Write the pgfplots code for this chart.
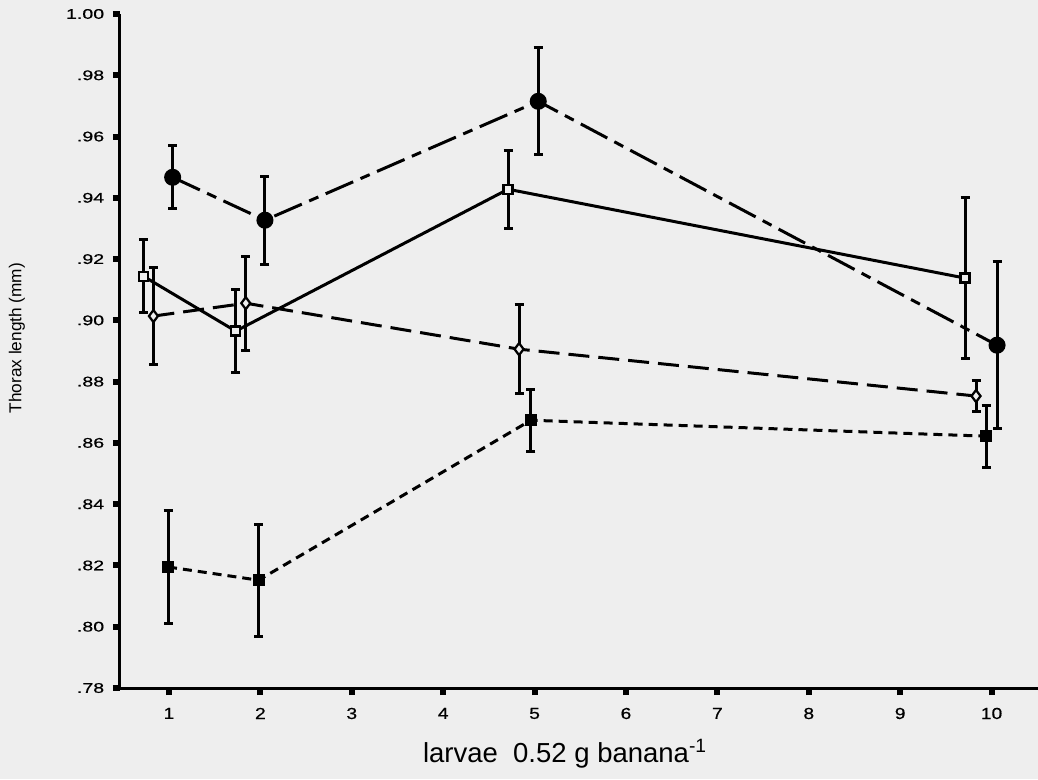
\documentclass[border=0pt]{standalone}
\usepackage{fontspec}
\setmainfont{Liberation Sans}
\newfontfamily\ytickfont[FakeStretch=1.4, FakeBold=0.6]{Liberation Sans}
\newfontfamily\xtickfont[FakeStretch=1.2, FakeBold=0.6]{Liberation Sans}
\usepackage{pgfplots}
\pgfplotsset{compat=1.18}
\definecolor{paper}{RGB}{238,238,238}

\begin{document}
\begin{tikzpicture}
% page background
\fill[paper] (-48pt,-36.4pt) rectangle (367.2pt,275.2pt);
\begin{axis}[
  at={(0,0)}, anchor=south west,
  scale only axis,
  width=367.2pt, height=269.6pt,
  xmin=0.464, xmax=10.508,
  ymin=0.78, ymax=1.00,
  axis lines=left,
  axis line style={-, line width=1.2pt},
  tick align=outside,
  major tick length=2.8pt,
  tick style={line width=2.4pt, black},
  /pgf/number format/assume math mode=true,
  xtick={1,2,3,4,5,6,7,8,9,10},
  ytick={0.78,0.80,0.82,0.84,0.86,0.88,0.90,0.92,0.94,0.96,0.98,1.00},
  yticklabels={.78,.80,.82,.84,.86,.88,.90,.92,.94,.96,.98,1.00},
  xticklabel style={font=\xtickfont\fontsize{6.4}{7}\selectfont, yshift=-1.6pt},
  yticklabel style={font=\ytickfont\fontsize{5.6}{6}\selectfont},
  xlabel={larvae\ \ 0.52 g banana\textsuperscript{-1}},
  ylabel={Thorax length (mm)},
  xlabel style={at={(axis description cs:0.485,-0.1098)}, anchor=base,
    font=\fontsize{11}{13}\selectfont},
  ylabel style={at={(axis description cs:-0.1122,0.519)}, anchor=center,
    font=\fontsize{6.9}{8}\selectfont},
  clip=false,
]
% filled circles, dash-dot line
\addplot[black, line width=1.2pt,
  dash pattern=on 12pt off 3.2pt on 4pt off 3.2pt,
  mark=*, mark size=2.8pt, mark options={solid},
  error bars/.cd, y dir=both, y explicit,
  error bar style={solid, line width=1.2pt},
  error mark options={solid, rotate=90, line width=1.2pt, mark size=1.8pt}]
coordinates {
  (1.04,0.9467) +- (0,0.0103)
  (2.05,0.9327) +- (0,0.0144)
  (5.04,0.9715) +- (0,0.0175)
  (10.06,0.8919) +- (0,0.0272)
};
% open squares, solid line
\addplot[black, line width=1.2pt,
  mark=square*, mark size=1.8pt, mark options={solid, fill=paper, line width=0.9pt},
  error bars/.cd, y dir=both, y explicit,
  error bar style={solid, line width=1.2pt},
  error mark options={solid, rotate=90, line width=1.2pt, mark size=1.8pt}]
coordinates {
  (0.72,0.9144) +- (0,0.0119)
  (1.73,0.8965) +- (0,0.0135)
  (4.71,0.9428) +- (0,0.0127)
  (9.71,0.9138) +- (0,0.0263)
};
% open diamonds, long dashes
\addplot[black, line width=1.2pt,
  dash pattern=on 8.4pt off 3.6pt,
  mark=diamond*, mark size=2.4pt, mark options={solid, fill=paper, line width=0.9pt},
  error bars/.cd, y dir=both, y explicit,
  error bar style={solid, line width=1.2pt},
  error mark options={solid, rotate=90, line width=1.2pt, mark size=1.8pt}]
coordinates {
  (0.83,0.9014) +- (0,0.0157)
  (1.84,0.9056) +- (0,0.0153)
  (4.83,0.8906) +- (0,0.0145)
  (9.83,0.8753) +- (0,0.0052)
};
% filled squares, short dashes
\addplot[black, line width=1.2pt,
  dash pattern=on 3.6pt off 2.4pt,
  mark=square*, mark size=1.8pt, mark options={solid},
  error bars/.cd, y dir=both, y explicit,
  error bar style={solid, line width=1.2pt},
  error mark options={solid, rotate=90, line width=1.2pt, mark size=1.8pt}]
coordinates {
  (0.99,0.8195) +- (0,0.0186)
  (1.98,0.8152) +- (0,0.0183)
  (4.96,0.8674) +- (0,0.0101)
  (9.94,0.8622) +- (0,0.0101)
};
\end{axis}
\pgfresetboundingbox
\path[use as bounding box] (-48pt,-36.4pt) rectangle (367.2pt,275.2pt);
\end{tikzpicture}
\end{document}
